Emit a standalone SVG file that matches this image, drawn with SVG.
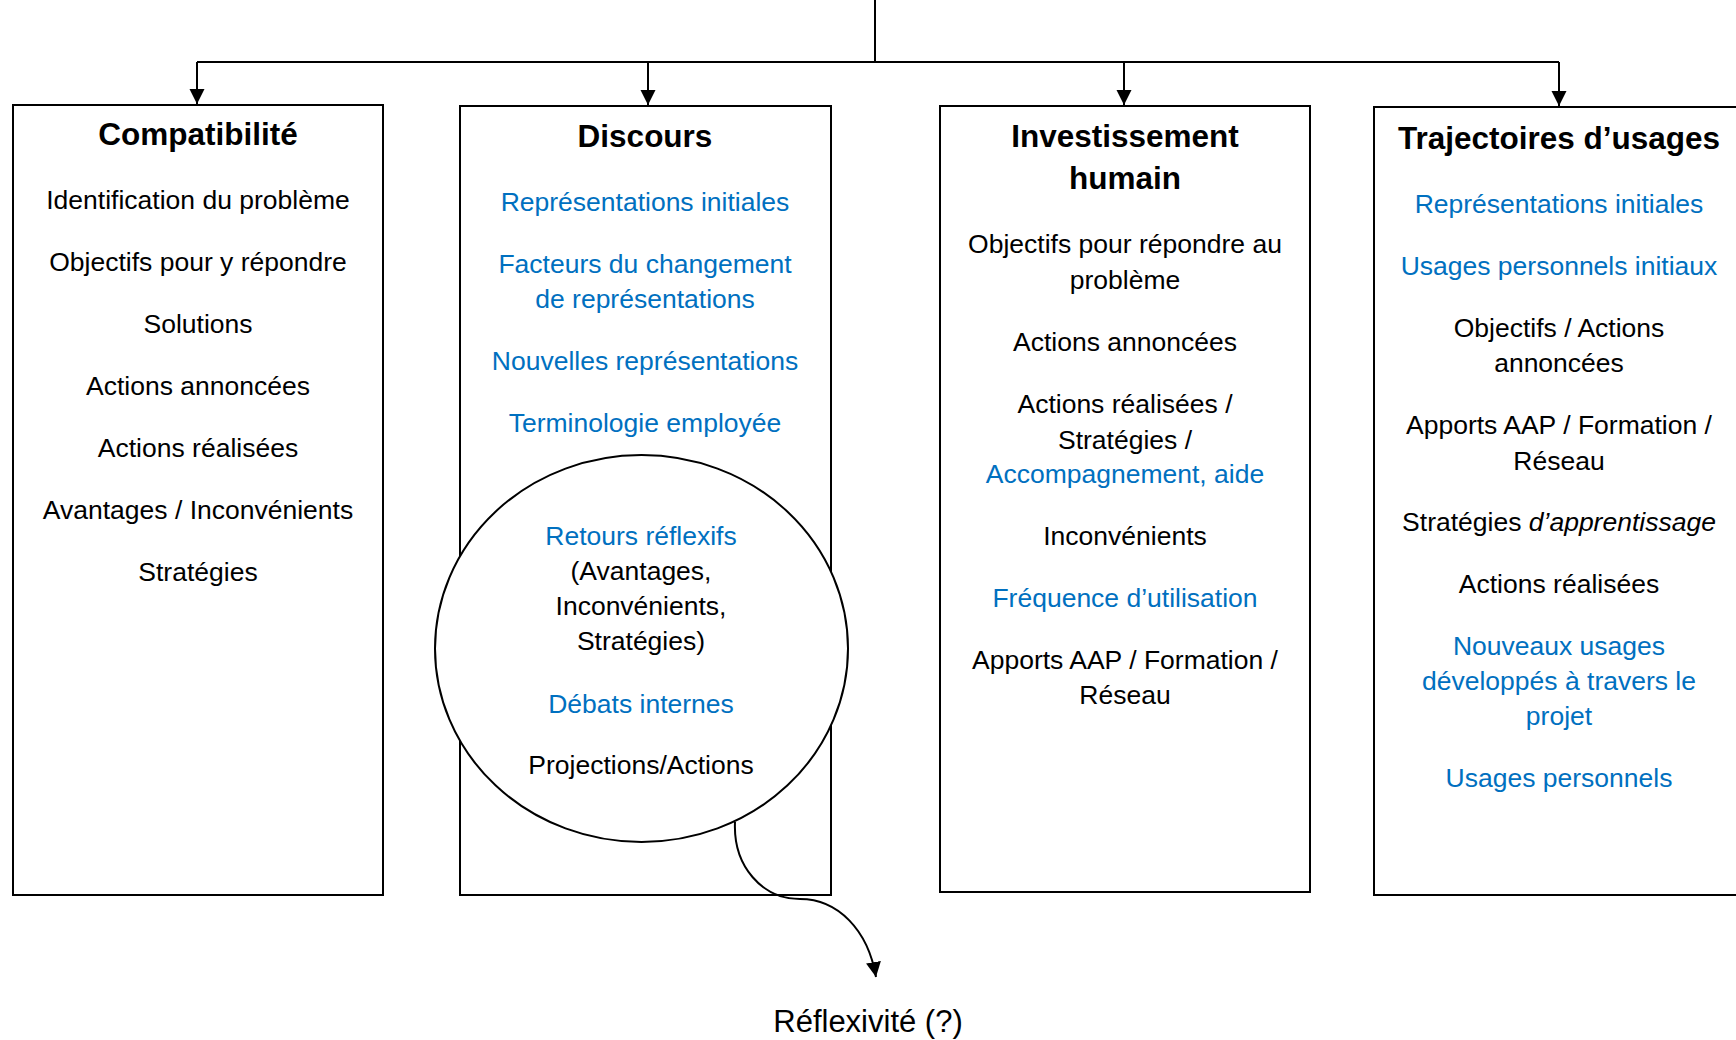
<svg xmlns="http://www.w3.org/2000/svg" width="1736" height="1040" viewBox="0 0 1736 1040">
<style>
  text { font-family: "Liberation Sans", Arial, sans-serif; font-size: 26.5px; fill: #000; text-anchor: middle; }
  .t { font-weight: bold; font-size: 31.5px; }
  .b { fill: #0070C0; }
  .box { fill: #fff; stroke: #000; stroke-width: 2; }
  .ln { fill: none; stroke: #000; stroke-width: 2; }
</style>
<defs>
  <marker id="arr" markerUnits="userSpaceOnUse" markerWidth="16" markerHeight="16" refX="15" refY="7.5" orient="auto">
    <path d="M0,0 L15,7.5 L0,15 z" fill="#000"/>
  </marker>
</defs>
<rect width="1736" height="1040" fill="#fff"/>

<g id="connectors">
  <path class="ln" d="M875,0 V62"/>
  <path class="ln" d="M197,62 H1559"/>
  <path class="ln" d="M197,62 V104" marker-end="url(#arr)"/>
  <path class="ln" d="M648,62 V105" marker-end="url(#arr)"/>
  <path class="ln" d="M1124,62 V105" marker-end="url(#arr)"/>
  <path class="ln" d="M1559,62 V106" marker-end="url(#arr)"/>
</g>

<g id="node-compatibilite">
  <rect class="box" x="13" y="105" width="370" height="790"/>
  <text class="t" x="198" y="145">Compatibilité</text>
  <text x="198" y="209">Identification du problème</text>
  <text x="198" y="271">Objectifs pour y répondre</text>
  <text x="198" y="333">Solutions</text>
  <text x="198" y="395">Actions annoncées</text>
  <text x="198" y="457">Actions réalisées</text>
  <text x="198" y="519">Avantages / Inconvénients</text>
  <text x="198" y="581">Stratégies</text>
</g>

<g id="node-discours">
  <rect class="box" x="460" y="106" width="371" height="789"/>
  <text class="t" x="645" y="147">Discours</text>
  <text class="b" x="645" y="211">Représentations initiales</text>
  <text class="b" x="645" y="273">Facteurs du changement</text>
  <text class="b" x="645" y="308">de représentations</text>
  <text class="b" x="645" y="370">Nouvelles représentations</text>
  <text class="b" x="645" y="432">Terminologie employée</text>
</g>

<g id="node-retours">
  <ellipse cx="641.5" cy="648.5" rx="206.5" ry="193.5" fill="#fff" stroke="#000" stroke-width="2"/>
  <text class="b" x="641" y="545">Retours réflexifs</text>
  <text x="641" y="580">(Avantages,</text>
  <text x="641" y="615">Inconvénients,</text>
  <text x="641" y="650">Stratégies)</text>
  <text class="b" x="641" y="713">Débats internes</text>
  <text x="641" y="774">Projections/Actions</text>
</g>

<g id="node-investissement">
  <rect class="box" x="940" y="106" width="370" height="786"/>
  <text class="t" x="1125" y="147">Investissement</text>
  <text class="t" x="1125" y="189">humain</text>
  <text x="1125" y="253">Objectifs pour répondre au</text>
  <text x="1125" y="289">problème</text>
  <text x="1125" y="351">Actions annoncées</text>
  <text x="1125" y="413">Actions réalisées /</text>
  <text x="1125" y="449">Stratégies /</text>
  <text class="b" x="1125" y="483">Accompagnement, aide</text>
  <text x="1125" y="545">Inconvénients</text>
  <text class="b" x="1125" y="607">Fréquence d’utilisation</text>
  <text x="1125" y="669">Apports AAP / Formation /</text>
  <text x="1125" y="704">Réseau</text>
</g>

<g id="node-trajectoires">
  <rect class="box" x="1374" y="107" width="380" height="788"/>
  <text class="t" x="1559" y="149">Trajectoires d’usages</text>
  <text class="b" x="1559" y="213">Représentations initiales</text>
  <text class="b" x="1559" y="275">Usages personnels initiaux</text>
  <text x="1559" y="337">Objectifs / Actions</text>
  <text x="1559" y="372">annoncées</text>
  <text x="1559" y="434">Apports AAP / Formation /</text>
  <text x="1559" y="470">Réseau</text>
  <text x="1559" y="531">Stratégies <tspan font-style="italic">d’apprentissage</tspan></text>
  <text x="1559" y="593">Actions réalisées</text>
  <text class="b" x="1559" y="655">Nouveaux usages</text>
  <text class="b" x="1559" y="690">développés à travers le</text>
  <text class="b" x="1559" y="725">projet</text>
  <text class="b" x="1559" y="787">Usages personnels</text>
</g>

<g id="connector-reflexivite">
  <path class="ln" d="M735,822 C733,866 762,899 800,899 C838,899 868,930 876,977" marker-end="url(#arr)"/>
</g>

<g id="node-reflexivite">
  <text x="868" y="1032" style="font-size:31px">Réflexivité (?)</text>
</g>
</svg>
